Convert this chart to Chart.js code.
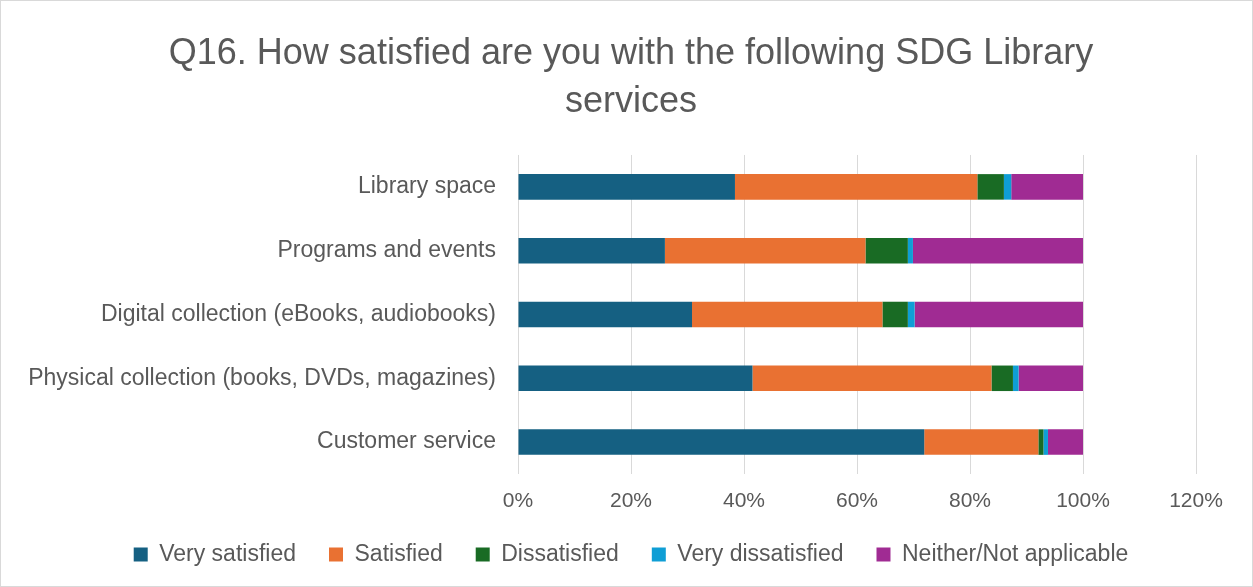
<!DOCTYPE html>
<html>
<head>
<meta charset="utf-8">
<script src="https://cdn.jsdelivr.net/npm/chart.js@4.4.1/dist/chart.umd.min.js"></script>
<style>
  body { margin: 0; background: #fff; }
  #wrap { width: 1253px; height: 587px; box-sizing: border-box; border: 1px solid #d9d9d9; }
</style>
</head>
<body>
<div id="wrap"><canvas id="chart" width="1251" height="585"></canvas></div>
<script>
// survey categories, top to bottom
const categories = [
  'Library space',
  'Programs and events',
  'Digital collection (eBooks, audiobooks)',
  'Physical collection (books, DVDs, magazines)',
  'Customer service'
]

// share of responses (%) per category
const verySatisfied = [38.4, 26.0, 30.8, 41.5, 71.9]
const satisfied = [42.9, 35.5, 33.7, 42.3, 20.2]
const dissatisfied = [4.7, 7.5, 4.5, 3.8, 0.9]
const veryDissatisfied = [1.3, 0.9, 1.2, 1.0, 0.8]
const neither = [12.7, 30.1, 29.8, 11.4, 6.2]

const xTicks = [0, 20, 40, 60, 80, 100, 120]

const fontFamily = '"Liberation Sans", Arial, sans-serif'
const textColor = '#595959'

function series(label, data, color) {
  return { label, data, backgroundColor: color, borderWidth: 0, barPercentage: 0.4, categoryPercentage: 1 }
}

const ctx = document.getElementById('chart').getContext('2d')
new Chart(ctx, {
  type: 'bar',
  data: {
    labels: categories,
    datasets: [
      series('Very satisfied', verySatisfied, '#156082'),
      series('Satisfied', satisfied, '#E97132'),
      series('Dissatisfied', dissatisfied, '#196B24'),
      series('Very dissatisfied', veryDissatisfied, '#0F9ED5'),
      series('Neither/Not applicable', neither, '#A02B93')
    ]
  },
  options: {
    indexAxis: 'y',
    responsive: false,
    animation: false,
    layout: { padding: { left: 20, right: 11, top: 29, bottom: 10 } },
    plugins: {
      title: {
        display: true,
        text: ['Q16. How satisfied are you with the following SDG Library', 'services'],
        color: textColor,
        font: { family: fontFamily, size: 36, weight: 'normal', lineHeight: 1.333 },
        padding: { top: 0, bottom: 29 }
      },
      legend: {
        position: 'bottom',
        labels: {
          color: textColor,
          font: { family: fontFamily, size: 23 },
          boxWidth: 14,
          boxHeight: 14,
          padding: 33
        }
      },
      tooltip: { enabled: false }
    },
    scales: {
      x: {
        stacked: true,
        min: 0,
        max: 120,
        afterBuildTicks: (axis) => { axis.ticks = xTicks.map(v => ({ value: v })) },
        afterFit: (axis) => {
          // leave room right of the plot like the original
          axis.height = 36
          axis.paddingRight = 56
        },
        grid: { color: '#d9d9d9', lineWidth: 1, drawTicks: false },
        border: { display: false },
        ticks: {
          color: textColor,
          font: { family: fontFamily, size: 21 },
          padding: 15,
          callback: (v) => v + '%'
        }
      },
      y: {
        stacked: true,
        afterFit: (axis) => { axis.width = 497 },
        grid: { display: false, drawTicks: false },
        border: { display: false },
        ticks: {
          color: textColor,
          font: { family: fontFamily, size: 23 },
          padding: 22
        }
      }
    }
  }
})
</script>
</body>
</html>
